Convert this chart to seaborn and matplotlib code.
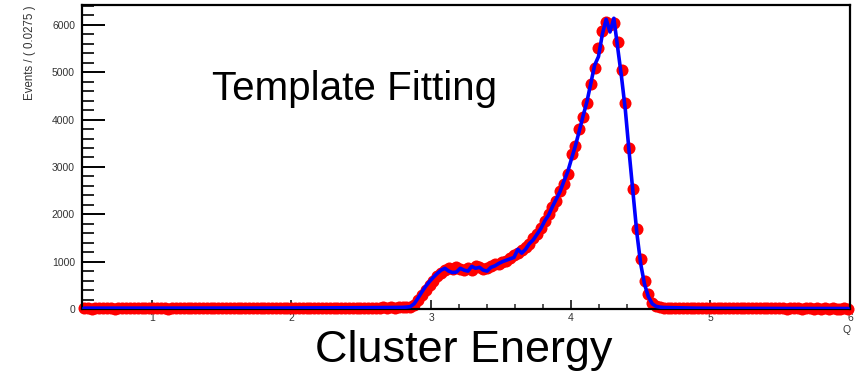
import numpy as np
import pandas as pd
import matplotlib
matplotlib.use("Agg")
import matplotlib.pyplot as plt
from matplotlib.ticker import MultipleLocator
import seaborn as sns

# ---- data -------------------------------------------------------------
x_min, x_max, bin_width = 0.5, 6.0, 0.0275
y_max = 6420

flat_left = [12, 15, 9, 14, 18, 11, 16, 13, 10, 17,
             14, 12, 19, 15, 11, 16, 13, 18, 14, 12,
             17, 15, 10, 13, 19, 16, 12, 14, 18, 11,
             15, 17, 13, 12, 16, 19, 14, 11, 15, 18,
             13, 16, 12, 17, 14, 19, 15, 13, 18, 16,
             20, 14, 17, 21, 15, 18, 22, 16, 19, 23,
             20, 17, 24, 21, 19, 25, 22, 20, 26, 24,
             23, 27, 25, 28, 26, 30, 27, 29, 32, 30,
             33, 31, 35, 34]
signal_counts = [38, 45, 85, 180, 290, 400, 500, 600, 690, 770,
                 820, 860, 840, 880, 850, 830, 870, 820, 900, 880,
                 850, 870, 900, 940, 960, 990, 1020, 1080, 1130, 1180,
                 1240, 1300, 1380, 1500, 1580, 1720, 1850, 2010, 2150, 2290,
                 2500, 2650, 2860, 3280, 3450, 3800, 4050, 4350, 4750, 5100,
                 5520, 5880, 6060, 6000, 6050, 5640, 5040, 4340, 3390, 2540,
                 1690, 1060, 590, 320, 130, 60, 40]
flat_right = [30, 28, 26, 24, 22, 21, 20, 19, 18, 17,
              16, 18, 15, 17, 14, 16, 15, 13, 16, 14,
              12, 15, 13, 14, 12, 13, 11, 14, 12, 13,
              11, 12, 10, 13, 11, 12, 10, 11, 12, 10,
              11, 9, 12, 10, 11, 9, 10, 11, 10]

fit_left = [18, 18, 18, 18, 18, 18, 18, 18, 18, 18,
            18, 18, 18, 18, 18, 18, 18, 18, 18, 18,
            18, 18, 18, 18, 18, 18, 18, 18, 18, 18,
            18, 18, 18, 18, 18, 18, 18, 18, 18, 18,
            19, 19, 19, 19, 19, 19, 19, 19, 19, 19,
            20, 20, 20, 21, 21, 21, 22, 22, 22, 23,
            23, 23, 24, 24, 24, 25, 25, 25, 26, 26,
            27, 27, 28, 28, 29, 29, 30, 30, 31, 31,
            32, 33, 34, 35]
fit_signal = [40, 50, 110, 230, 360, 480, 580, 670, 750, 820,
              860, 800, 770, 780, 860, 820, 800, 900, 860, 880,
              820, 800, 880, 910, 960, 1000, 1030, 1060, 1090, 1260,
              1180, 1260, 1380, 1460, 1580, 1700, 1860, 1980, 2160, 2320,
              2480, 2700, 2900, 3180, 3450, 3760, 4080, 4380, 4760, 5150,
              5330, 5800, 6120, 5850, 6140, 5520, 4900, 4200, 3300, 2450,
              1600, 950, 520, 260, 110, 55, 40]
fit_right = [32, 30, 28, 26, 24, 22, 20, 19, 18, 17,
             16, 16, 15, 15, 14, 14, 14, 13, 13, 13,
             13, 13, 12, 12, 12, 12, 12, 12, 12, 12,
             11, 11, 11, 11, 11, 11, 11, 11, 11, 11,
             11, 11, 11, 11, 11, 11, 11, 11, 11]

counts = flat_left + signal_counts + flat_right
fit_vals = fit_left + fit_signal + fit_right

x_ticks = [1, 2, 3, 4, 5, 6]
y_ticks = [0, 1000, 2000, 3000, 4000, 5000, 6000]

n_bins = len(counts)
centers = x_min + bin_width * (np.arange(n_bins) + 0.5)
df = pd.DataFrame({"energy": centers, "events": counts, "fit": fit_vals})

# ---- style -------------------------------------------------------------
sns.set_style("ticks")
plt.rcParams["font.family"] = ["Liberation Sans", "DejaVu Sans"]

fig = plt.figure(figsize=(8.64, 3.77), dpi=100)
ax = fig.add_axes([82 / 864, 1 - 309 / 377, 768 / 864, 304 / 377])

sns.scatterplot(data=df, x="energy", y="events", ax=ax, color="#ff0000",
                s=75, linewidth=0, marker="o", clip_on=False, zorder=2,
                legend=False)
sns.lineplot(data=df, x="energy", y="fit", ax=ax, color="#0000ff",
             linewidth=2.6, zorder=3, legend=False)

ax.set_xlim(x_min, x_max)
ax.set_ylim(0, y_max)
ax.set_xlabel("")
ax.set_ylabel("")

for sp in ax.spines.values():
    sp.set_visible(True)
    sp.set_linewidth(1.6)
    sp.set_color("black")
    sp.set_zorder(2.5)

ax.set_xticks(x_ticks)
ax.set_xticklabels([str(t) for t in x_ticks])
ax.set_yticks(y_ticks)
ax.set_yticklabels([str(t) for t in y_ticks])
ax.xaxis.set_minor_locator(MultipleLocator(0.2))
ax.yaxis.set_minor_locator(MultipleLocator(200))

ax.tick_params(axis="x", which="major", direction="in", length=6.5, width=1.1,
               labelsize=7.5, pad=3, colors="black", labelcolor="#333333",
               top=False)
ax.tick_params(axis="x", which="minor", direction="in", length=3.6, width=1.1,
               top=False)
ax.tick_params(axis="y", which="major", direction="in", length=16.5, width=1.4,
               labelsize=7.5, pad=5, colors="black", labelcolor="#333333",
               right=False)
ax.tick_params(axis="y", which="minor", direction="in", length=8.6, width=1.4,
               right=False)

fig.text(30 / 864, 1 - 5 / 377, "Events / ( 0.0275 )", rotation=90,
         ha="center", va="top", fontsize=8.3, color="#333333")
fig.text(847 / 864, 1 - 330 / 377, "Q", ha="center", va="center",
         fontsize=7.5, color="#333333")
fig.text(212 / 864, 1 - 100 / 377, "Template Fitting", ha="left",
         va="baseline", fontsize=29.1, color="black")
fig.text(464 / 864, 1 - 362 / 377, "Cluster Energy", ha="center",
         va="baseline", fontsize=32.4, color="black")

fig.savefig("out.png", dpi=100, facecolor="white")
